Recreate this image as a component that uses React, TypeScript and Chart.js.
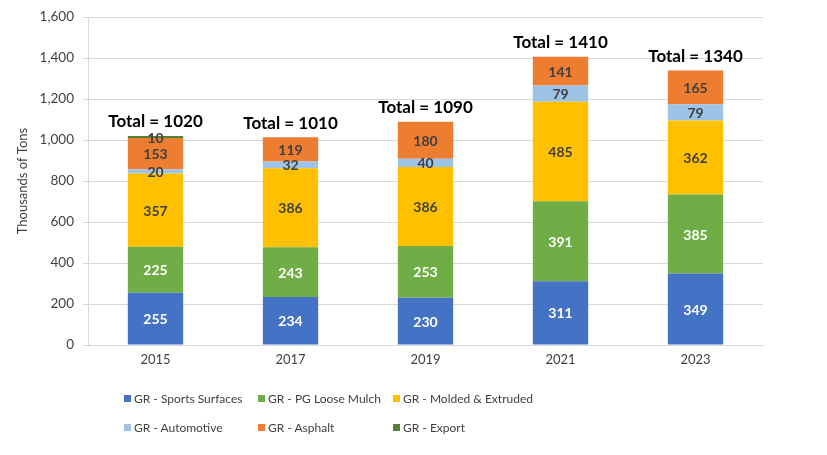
import React, { useEffect, useRef } from "react";
import { Chart, registerables } from "chart.js";

Chart.register(...registerables);

const years = ["2015", "2017", "2019", "2021", "2023"];
const sportsSurfaces = [255, 234, 230, 311, 349];
const pgLooseMulch = [225, 243, 253, 391, 385];
const moldedExtruded = [357, 386, 386, 485, 362];
const automotive = [20, 32, 40, 79, 79];
const asphalt = [153, 119, 180, 141, 165];
const exportVals = [10, 0, 0, 0, 0];
const totals = [1020, 1010, 1090, 1410, 1340];
const yTicks = [0, 200, 400, 600, 800, 1000, 1200, 1400, 1600];

const FONT = "Lato, 'Open Sans', sans-serif";

const seriesDefs = [
  { label: "GR - Sports Surfaces", data: sportsSurfaces, color: "#4472C4", text: "#ffffff" },
  { label: "GR - PG Loose Mulch", data: pgLooseMulch, color: "#70AD47", text: "#ffffff" },
  { label: "GR - Molded & Extruded", data: moldedExtruded, color: "#FFC000", text: "#404040" },
  { label: "GR - Automotive", data: automotive, color: "#9DC3E6", text: "#404040" },
  { label: "GR - Asphalt", data: asphalt, color: "#ED7D31", text: "#404040" },
  { label: "GR - Export", data: exportVals, color: "#548235", text: "#404040" },
];

const labelPlugin = {
  id: "segLabels",
  afterDatasetsDraw(chart: any) {
    const ctx = chart.ctx;
    ctx.save();
    ctx.textAlign = "center";
    ctx.textBaseline = "middle";
    chart.data.datasets.forEach((ds: any, di: number) => {
      const meta = chart.getDatasetMeta(di);
      meta.data.forEach((bar: any, i: number) => {
        const v = ds.data[i];
        if (!v) return;
        const cy = (bar.y + bar.base) / 2;
        ctx.font = `bold 14px ${FONT}`;
        ctx.fillStyle = seriesDefs[di].text;
        ctx.fillText(String(v), bar.x, cy + 1);
      });
    });
    const firstMeta = chart.getDatasetMeta(0);
    const yScale = chart.scales.y;
    firstMeta.data.forEach((bar: any, i: number) => {
      let sum = 0;
      chart.data.datasets.forEach((ds: any) => (sum += ds.data[i] || 0));
      const top = yScale.getPixelForValue(sum);
      ctx.font = `bold 17px ${FONT}`;
      ctx.fillStyle = "#000000";
      ctx.fillText(`Total = ${totals[i]}`, bar.x, top - 14);
    });
    ctx.restore();
  },
};

export default function App() {
  const ref = useRef<HTMLCanvasElement | null>(null);
  useEffect(() => {
    document.body.style.margin = "0";
    const chart = new Chart(ref.current as HTMLCanvasElement, {
      type: "bar",
      data: {
        labels: years,
        datasets: seriesDefs.map((s) => ({
          label: s.label,
          data: s.data,
          backgroundColor: s.color,
          borderWidth: 0,
          categoryPercentage: 1,
          barPercentage: 0.41,
        })),
      },
      options: {
        animation: false,
        responsive: false,
        maintainAspectRatio: false,
        layout: { padding: { left: 15, right: 64, top: 15, bottom: 80 } },
        plugins: {
          legend: { display: false },
          tooltip: { enabled: false },
        },
        scales: {
          x: {
            stacked: true,
            grid: { display: false, drawTicks: false },
            border: { color: "#d9d9d9" },
            ticks: { color: "#404040", font: { family: FONT, size: 13 }, padding: 7 },
            afterFit: (s: any) => { s.height = 30; },
          },
          y: {
            stacked: true,
            min: 0,
            max: 1600,
            afterBuildTicks: (s: any) => { s.ticks = yTicks.map((v) => ({ value: v })); },
            grid: { color: "#d9d9d9", tickLength: 5 },
            border: { color: "#d9d9d9" },
            ticks: {
              color: "#404040",
              font: { family: FONT, size: 13.5 },
              padding: 9,
              callback: (v: any) => Number(v).toLocaleString("en-US"),
            },
            title: {
              display: true,
              text: "Thousands of Tons",
              color: "#404040",
              font: { family: FONT, size: 13 },
              padding: { top: 0, bottom: 4 },
            },
            afterFit: (s: any) => { s.width = 73; },
          },
        },
      },
      plugins: [labelPlugin],
    });
    return () => chart.destroy();
  }, []);

  const legendPos = [
    { x: 124, y: 398 },
    { x: 258, y: 398 },
    { x: 393, y: 398 },
    { x: 124, y: 427 },
    { x: 258, y: 427 },
    { x: 393, y: 427 },
  ];

  return (
    <div style={{ position: "relative", width: 827, height: 455, background: "#fff", overflow: "hidden" }}>
      <canvas ref={ref} width={827} height={455} style={{ position: "absolute", left: 0, top: 0 }} />
      {seriesDefs.map((s, i) => (
        <div
          key={s.label}
          style={{
            position: "absolute",
            left: legendPos[i].x,
            top: legendPos[i].y - 9,
            height: 18,
            display: "flex",
            alignItems: "center",
            fontFamily: FONT,
            fontSize: 12,
            color: "#404040",
            whiteSpace: "nowrap",
          }}
        >
          <span style={{ display: "inline-block", width: 7, height: 7, background: s.color, marginRight: 3 }} />
          <span>{s.label}</span>
        </div>
      ))}
    </div>
  );
}
